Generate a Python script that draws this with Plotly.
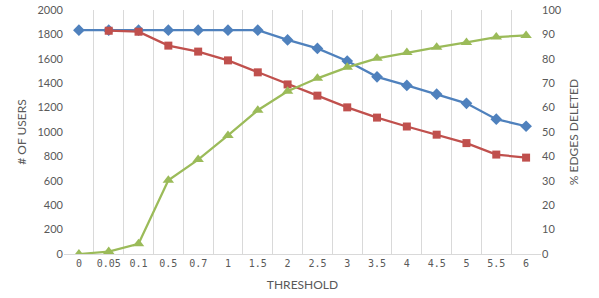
import plotly.graph_objects as go

thresholds = ["0", "0.05", "0.1", "0.5", "0.7", "1", "1.5", "2", "2.5", "3", "3.5", "4", "4.5", "5", "5.5", "6"]
users_a = [1835, 1835, 1835, 1835, 1835, 1835, 1835, 1755, 1685, 1582, 1452, 1382, 1310, 1235, 1105, 1047]
users_b = [None, 1830, 1822, 1708, 1659, 1587, 1489, 1390, 1298, 1202, 1118, 1045, 978, 909, 815, 790]
edges_deleted = [0, 1, 4.2, 30.2, 38.7, 48.6, 58.9, 66.7, 72, 76.5, 80.2, 82.6, 84.7, 86.7, 88.9, 89.6]

BLUE = "#4F81BD"
RED = "#C0504D"
GREEN = "#9BBB59"
GRAY = "#595959"
FONT = "Lato"

fig = go.Figure()
fig.add_trace(go.Scatter(x=thresholds, y=users_a, mode="lines+markers",
                         line=dict(color=BLUE, width=2.25),
                         marker=dict(symbol="diamond", size=9, color=BLUE),
                         yaxis="y", showlegend=False))
fig.add_trace(go.Scatter(x=thresholds, y=users_b, mode="lines+markers",
                         line=dict(color=RED, width=2.25),
                         marker=dict(symbol="square", size=8, color=RED),
                         yaxis="y", showlegend=False))
fig.add_trace(go.Scatter(x=thresholds, y=edges_deleted, mode="lines+markers",
                         line=dict(color=GREEN, width=2.25),
                         marker=dict(symbol="triangle-up", size=10, color=GREEN),
                         yaxis="y2", showlegend=False))

fig.update_layout(
    width=599, height=298,
    margin=dict(l=64, r=58, t=10, b=44, autoexpand=False),
    paper_bgcolor="white", plot_bgcolor="white",
    font=dict(family=FONT, size=11, color=GRAY),
    xaxis=dict(type="category", tickson="boundaries", showgrid=True,
               gridcolor="#D9D9D9", gridwidth=1, ticks="", tickangle=0,
               showline=True, linecolor="#D9D9D9", linewidth=1,
               tickfont=dict(family="DejaVu Sans Mono", size=10, color=GRAY),
               title=dict(text="THRESHOLD", font=dict(family=FONT, size=12, color=GRAY), standoff=12),
               range=[-0.5, 15.5], zeroline=False, automargin=False),
    yaxis=dict(range=[0, 2000], dtick=200, showgrid=False, zeroline=False,
               showline=False, ticks="", automargin=False,
               tickfont=dict(family=FONT, size=11, color=GRAY),
               title=dict(text="# OF USERS", font=dict(family=FONT, size=12, color=GRAY), standoff=8)),
    yaxis2=dict(range=[0, 100], dtick=10, overlaying="y", side="right",
                showgrid=False, zeroline=False, showline=False, ticks="", automargin=False,
                tickfont=dict(family=FONT, size=11, color=GRAY),
                title=dict(text="% EDGES DELETED", font=dict(family=FONT, size=12, color=GRAY), standoff=8)),
)

fig.write_html("out.html", config={"displayModeBar": False},
               post_script="document.body.style.margin='0';")
